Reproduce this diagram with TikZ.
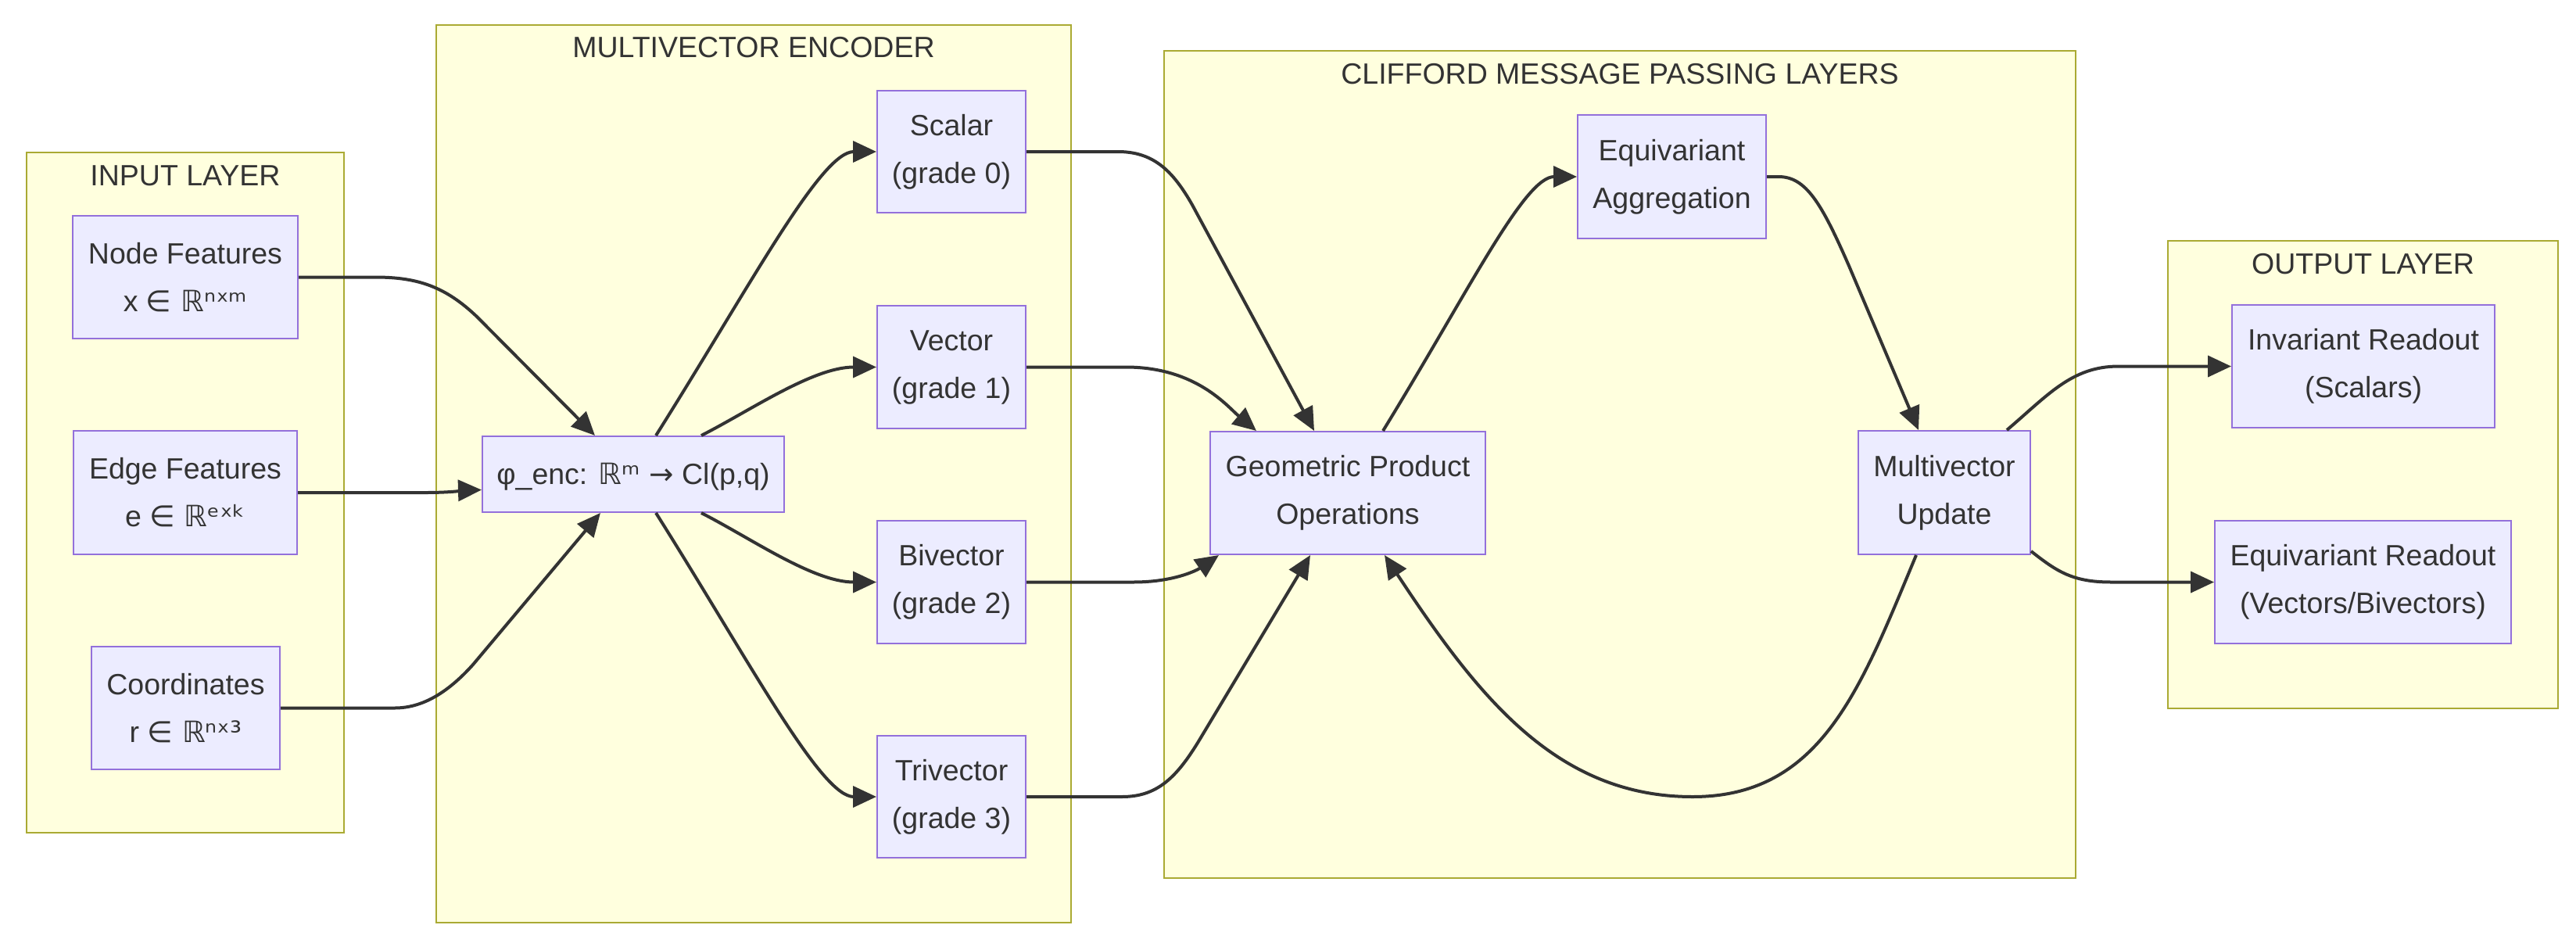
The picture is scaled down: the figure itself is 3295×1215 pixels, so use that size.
\documentclass[tikz,border=0pt]{standalone}
\usepackage{fontspec}
\setmainfont{Liberation Sans}
\newfontfamily\dvfont{DejaVu Sans}
\usetikzlibrary{arrows.meta,calc}
\definecolor{txt}{HTML}{333333}
\definecolor{nodefill}{HTML}{ECECFF}
\definecolor{nodeline}{HTML}{9370DB}
\definecolor{clfill}{HTML}{FFFFDE}
\definecolor{clline}{HTML}{AAAA33}
\definecolor{edgec}{HTML}{333333}
\begin{document}
\begin{tikzpicture}[x=1pt,y=-1pt,
  box/.style={draw=nodeline, fill=nodefill, line width=2pt, inner sep=0pt, align=center, text=txt, font=\fontsize{37.5}{61}\selectfont, execute at begin node={\rule{0pt}{33pt}}},
  cluster/.style={draw=clline, fill=clfill, line width=2pt, inner sep=0pt},
  ctitle/.style={anchor=base, text=txt, font=\fontsize{37.5}{45}\selectfont, inner sep=0pt},
  flow/.style={draw=edgec, line width=4pt, -{Triangle[length=30pt,width=27pt]}, line join=round}
]
\fill[white] (0,0) rectangle (3295,1215);
\useasboundingbox (0,0) rectangle (3295,1215);

% clusters
\node[cluster, minimum width=406pt, minimum height=870pt] (inp) at (237,630) {};
\node[cluster, minimum width=812pt, minimum height=1148pt] (encl) at (964,606) {};
\node[cluster, minimum width=1166pt, minimum height=1058pt] (clf) at (2072,594) {};
\node[cluster, minimum width=499pt, minimum height=598pt] (outl) at (3022.5,607) {};
\node[ctitle] (tinp) at ($(inp.north)+(0,43)$) {INPUT LAYER};
\node[ctitle] (tenc) at ($(encl.north)+(0,43)$) {MULTIVECTOR ENCODER};
\node[ctitle] (tclf) at ($(clf.north)+(0,43)$) {CLIFFORD MESSAGE PASSING LAYERS};
\node[ctitle] (tout) at ($(outl.north)+(0,43)$) {OUTPUT LAYER};

% nodes
\node[box, minimum width=288pt, minimum height=157pt] (nf) at (237,354.5) {Node Features\\x {\dvfont ∈ ℝ}{\dvfont ⁿˣᵐ}};
\node[box, minimum width=286pt, minimum height=158pt] (ef) at (237,630) {Edge Features\\e {\dvfont ∈ ℝ}{\dvfont ᵉˣᵏ}};
\node[box, minimum width=241pt, minimum height=157pt] (co) at (237.5,905.5) {Coordinates\\r {\dvfont ∈ ℝ}{\dvfont ⁿˣ³}};
\node[box, minimum width=386pt, minimum height=97pt] (enc) at (810,606.5) {φ\_enc: {\dvfont ℝᵐ →} Cl(p,q)};
\node[box, minimum width=190pt, minimum height=156pt] (sc) at (1217,194) {Scalar\\(grade 0)};
\node[box, minimum width=190pt, minimum height=157pt] (ve) at (1217,469.5) {Vector\\(grade 1)};
\node[box, minimum width=190pt, minimum height=157pt] (bi) at (1217,744.5) {Bivector\\(grade 2)};
\node[box, minimum width=190pt, minimum height=156pt] (tr) at (1217,1019) {Trivector\\(grade 3)};
\node[box, minimum width=352pt, minimum height=157pt] (gp) at (1724,630.5) {Geometric Product\\Operations};
\node[box, minimum width=241pt, minimum height=158pt] (ea) at (2138.5,226) {Equivariant\\Aggregation};
\node[box, minimum width=220pt, minimum height=158pt] (mu) at (2487,630) {Multivector\\Update};
\node[box, minimum width=336pt, minimum height=157pt] (ir) at (3023,468.5) {Invariant Readout\\(Scalars)};
\node[box, minimum width=379pt, minimum height=157pt] (er) at (3022.5,744.5) {Equivariant Readout\\(Vectors/Bivectors)};

% edges
\draw[flow] (nf.east) -- (480,354.5) .. controls (535,354.5) and (570,367) .. (610,405) -- ($(enc.north west)+(145,0)$);
\draw[flow] (ef.east) -- (545,630) .. controls (578,630) and (598,627) .. ($(enc.west)+(0,20)$);
\draw[flow] (co.east) -- (505,905.5) .. controls (545,905.5) and (578,880) .. (605,850) -- ($(enc.south west)+(152,0)$);
\draw[flow] ($(enc.north west)+(223,0)$) .. controls (960,365) and (1050,194) .. (sc.west);
\draw[flow] ($(enc.north west)+(281,0)$) .. controls (960,525) and (1040,469.5) .. (ve.west);
\draw[flow] ($(enc.south west)+(281,0)$) .. controls (960,688) and (1040,744.5) .. (bi.west);
\draw[flow] ($(enc.south west)+(223,0)$) .. controls (960,848) and (1050,1019) .. (tr.west);
\draw[flow] (sc.east) -- (1430,194) .. controls (1475,194) and (1500,218) .. (1525,262) -- ($(gp.north west)+(134,0)$);
\draw[flow] (ve.east) -- (1440,469.5) .. controls (1530,469.5) and (1570,520) .. ($(gp.north west)+(60,0)$);
\draw[flow] (bi.east) -- (1450,744.5) .. controls (1500,744.5) and (1530,730) .. ($(gp.south west)+(12,0)$);
\draw[flow] (tr.east) -- (1435,1019) .. controls (1480,1019) and (1505,995) .. (1535,945) -- ($(gp.south west)+(129,0)$);
\draw[flow] ($(gp.north west)+(222,0)$) .. controls (1880,370) and (1950,226) .. (ea.west);
\draw[flow] (ea.east) -- (2275,226) .. controls (2310,226) and (2330,260) .. (2365,340) -- ($(mu.north west)+(78,0)$);
\draw[flow] ($(mu.south west)+(75,0)$) .. controls (2380,880) and (2330,1019) .. (2165,1019) .. controls (1990,1019) and (1890,890) .. ($(gp.south west)+(224,0)$);
\draw[flow] ($(mu.north west)+(191,0)$) .. controls (2620,505) and (2650,468.5) .. (2710,468.5) -- (ir.west);
\draw[flow] ($(mu.south east)+(0,-5)$) .. controls (2630,730) and (2650,744.5) .. (2700,744.5) -- (er.west);
\end{tikzpicture}
\end{document}
